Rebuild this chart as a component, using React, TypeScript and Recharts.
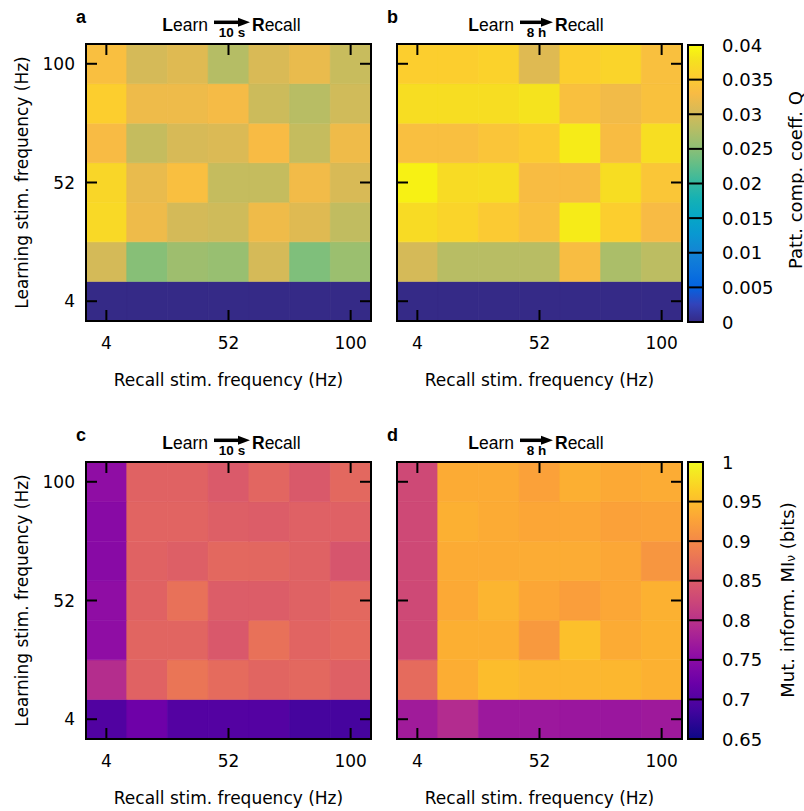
import React from 'react';
import { Bar, BarChart, Cell, XAxis, YAxis } from 'recharts';

const recallHz = [4, 20, 36, 52, 68, 84, 100];
const learnHz = [4, 20, 36, 52, 68, 84, 100];
const labelledHz = [4, 52, 100];

// rows: learning 100 Hz (top) down to 4 Hz; columns: recall 4 -> 100 Hz
const qShort = [
  [0.0335, 0.0302, 0.031, 0.0278, 0.0305, 0.0318, 0.0292],
  [0.0356, 0.0322, 0.0322, 0.0328, 0.0295, 0.028, 0.0298],
  [0.033, 0.029, 0.0303, 0.0306, 0.033, 0.029, 0.0323],
  [0.0365, 0.0318, 0.0335, 0.029, 0.029, 0.0325, 0.0304],
  [0.0368, 0.0322, 0.0301, 0.0297, 0.0323, 0.031, 0.0287],
  [0.0301, 0.0248, 0.0262, 0.0258, 0.0302, 0.0243, 0.026],
  [0, 0, 0, 0, 0, 0, 0],
];
const qLong = [
  [0.0355, 0.0355, 0.036, 0.031, 0.0355, 0.0362, 0.0337],
  [0.0373, 0.0373, 0.0373, 0.038, 0.0337, 0.0325, 0.0338],
  [0.0335, 0.0335, 0.0343, 0.0352, 0.0387, 0.0332, 0.0374],
  [0.0392, 0.037, 0.0373, 0.0332, 0.0332, 0.0373, 0.0345],
  [0.037, 0.0362, 0.035, 0.0337, 0.0387, 0.0355, 0.033],
  [0.0302, 0.028, 0.028, 0.028, 0.0333, 0.0271, 0.0283],
  [0, 0, 0, 0, 0, 0, 0],
];
const miShort = [
  [0.755, 0.858, 0.858, 0.848, 0.862, 0.847, 0.864],
  [0.748, 0.86, 0.86, 0.854, 0.851, 0.856, 0.856],
  [0.748, 0.858, 0.854, 0.864, 0.863, 0.857, 0.842],
  [0.755, 0.858, 0.874, 0.851, 0.851, 0.857, 0.864],
  [0.755, 0.861, 0.861, 0.846, 0.874, 0.86, 0.866],
  [0.794, 0.858, 0.879, 0.868, 0.861, 0.864, 0.855],
  [0.699, 0.724, 0.701, 0.701, 0.701, 0.689, 0.689],
];
const miLong = [
  [0.828, 0.934, 0.934, 0.925, 0.938, 0.933, 0.935],
  [0.828, 0.939, 0.934, 0.93, 0.931, 0.925, 0.927],
  [0.828, 0.934, 0.934, 0.935, 0.935, 0.931, 0.914],
  [0.828, 0.933, 0.943, 0.93, 0.922, 0.931, 0.94],
  [0.828, 0.938, 0.938, 0.917, 0.953, 0.934, 0.94],
  [0.868, 0.936, 0.95, 0.945, 0.945, 0.945, 0.94],
  [0.772, 0.792, 0.768, 0.768, 0.766, 0.766, 0.77],
];
const qTicks = [0, 0.005, 0.01, 0.015, 0.02, 0.025, 0.03, 0.035, 0.04];
const miTicks = [0.65, 0.7, 0.75, 0.8, 0.85, 0.9, 0.95, 1];

type Stop = [number, number, number, number];

const parula: Stop[] = [
  [0, 53, 42, 135], [4 / 63, 50, 67, 186], [8 / 63, 3, 99, 225], [12 / 63, 13, 117, 220],
  [16 / 63, 20, 133, 212], [20 / 63, 9, 152, 209], [24 / 63, 6, 167, 198], [28 / 63, 21, 177, 180],
  [32 / 63, 56, 185, 158], [36 / 63, 101, 190, 134], [40 / 63, 146, 191, 115], [44 / 63, 183, 189, 100],
  [48 / 63, 217, 186, 86], [52 / 63, 248, 187, 68], [56 / 63, 252, 206, 46], [60 / 63, 245, 228, 29],
  [1, 249, 251, 14],
];
const plasma: Stop[] = [
  [0, 13, 8, 135], [0.1, 65, 4, 157], [0.2, 106, 0, 168], [0.3, 143, 13, 164], [0.4, 177, 42, 144],
  [0.5, 204, 71, 120], [0.6, 225, 100, 98], [0.7, 242, 132, 75], [0.8, 252, 166, 54],
  [0.9, 252, 206, 37], [1, 240, 249, 33],
];

const colorScale = (stops: Stop[], lo: number, hi: number) => (v: number) => {
  const t = Math.min(1, Math.max(0, (v - lo) / (hi - lo)));
  let i = 0;
  while (i < stops.length - 2 && stops[i + 1][0] < t) i++;
  const a = stops[i];
  const b = stops[i + 1];
  const f = (t - a[0]) / (b[0] - a[0]);
  const c = [1, 2, 3].map((k) => Math.round(a[k] + (b[k] - a[k]) * f));
  return `rgb(${c.join(',')})`;
};

const qColor = colorScale(parula, 0, 0.04);
const miColor = colorScale(plasma, 0.65, 1);

const FONT = '"DejaVu Sans", sans-serif';
const TITLE_FONT = '"Liberation Sans", Arial, sans-serif';
const W = 400;
const H = 400;
const MARGIN = { top: 44, right: 29, bottom: 39, left: 26 };
const Y_W = 60;
const X_H = 40;
const PLOT = { x0: 86, x1: 371, y0: 44, y1: 321 };
const TICK = 11;
const CB = { x0: 688, x1: 703, y0: 45, y1: 322 };

const rowTicks = labelledHz.map((hz) => learnHz.indexOf(hz) + 0.5);
const cellW = (PLOT.x1 - PLOT.x0) / recallHz.length;
const cellH = (PLOT.y1 - PLOT.y0) / learnHz.length;

function XTick(props: any) {
  const { x, payload } = props;
  if (!labelledHz.includes(Number(payload.value))) return <g />;
  return (
    <text x={x} y={349} textAnchor="middle" fontSize={17} fontFamily={FONT} fill="#000">
      {payload.value}
    </text>
  );
}

function YTick(props: any) {
  const { y, payload } = props;
  return (
    <text x={75} y={y + 6} textAnchor="end" fontSize={17} fontFamily={FONT} fill="#000">
      {learnHz[Math.floor(payload.value)]}
    </text>
  );
}

function HeatPanel({ values, color, left, top, showY }: { values: number[][]; color: (v: number) => string; left: number; top: number; showY: boolean }) {
  const table = recallHz.map((hz) => {
    const row: Record<string, number | string> = { recall: String(hz) };
    learnHz.forEach((_, r) => {
      row[`l${r}`] = 1;
    });
    return row;
  });
  const bottomUp = [...values].reverse();
  return (
    <div style={{ position: 'absolute', left, top }}>
      <BarChart width={W} height={H} data={table} margin={MARGIN} barCategoryGap={0} barGap={0}>
        {learnHz.map((hz, r) => (
          <Bar key={hz} dataKey={`l${r}`} stackId="grid" isAnimationActive={false}>
            {recallHz.map((rh, c) => (
              <Cell key={rh} fill={color(bottomUp[r][c])} stroke={color(bottomUp[r][c])} strokeWidth={0.6} />
            ))}
          </Bar>
        ))}
        <XAxis dataKey="recall" interval={0} axisLine={false} tickLine={false} height={X_H} tick={<XTick />} />
        <YAxis
          type="number"
          domain={[0, learnHz.length]}
          ticks={rowTicks}
          axisLine={false}
          tickLine={false}
          width={Y_W}
          tick={showY ? <YTick /> : false}
        />
      </BarChart>
    </div>
  );
}

function CbTick(props: any) {
  const { y, payload } = props;
  return (
    <text x={42} y={y + 6.5} fontSize={18} fontFamily={FONT} fill="#000">
      {String(payload.value)}
    </text>
  );
}

function ColorBar({ stops, lo, hi, ticks, left, top, id }: { stops: Stop[]; lo: number; hi: number; ticks: number[]; left: number; top: number; id: string }) {
  const data = [{ name: 'bar', range: [lo, hi] }];
  return (
    <div style={{ position: 'absolute', left, top }}>
      <BarChart width={124} height={400} data={data} margin={{ top: CB.y0, right: 21, bottom: 400 - CB.y1, left: 8 }} barCategoryGap={0}>
        <defs>
          <linearGradient id={id} x1="0" y1="1" x2="0" y2="0">
            {stops.map((s, i) => (
              <stop key={i} offset={s[0]} stopColor={`rgb(${s[1]},${s[2]},${s[3]})`} />
            ))}
          </linearGradient>
        </defs>
        <XAxis dataKey="name" hide />
        <Bar dataKey="range" fill={`url(#${id})`} isAnimationActive={false} />
        <YAxis
          orientation="right"
          type="number"
          domain={[lo, hi]}
          ticks={ticks}
          width={80}
          axisLine={false}
          tickLine={false}
          tick={<CbTick />}
        />
      </BarChart>
    </div>
  );
}

const panels = [
  { letter: 'a', delay: '10 s', left: 0, top: 0, ax0: 214, ax1: 250, values: qShort, color: qColor, showY: true },
  { letter: 'b', delay: '8 h', left: 311, top: 0, ax0: 209, ax1: 242, values: qLong, color: qColor, showY: false },
  { letter: 'c', delay: '10 s', left: 0, top: 418, ax0: 214, ax1: 250, values: miShort, color: miColor, showY: true },
  { letter: 'd', delay: '8 h', left: 311, top: 418, ax0: 209, ax1: 242, values: miLong, color: miColor, showY: false },
];

const colorbars = [
  { top: 0, lo: 0, hi: 0.04, ticks: qTicks },
  { top: 417, lo: 0.65, hi: 1, ticks: miTicks },
];

function Decorations() {
  const tickX = labelledHz.map((hz) => PLOT.x0 + (recallHz.indexOf(hz) + 0.5) * cellW);
  const tickY = labelledHz.map((hz) => PLOT.y1 - (learnHz.indexOf(hz) + 0.5) * cellH);
  return (
    <svg width={804} height={811} style={{ position: 'absolute', left: 0, top: 0, pointerEvents: 'none' }}>
      {panels.map((p) => (
        <g key={p.letter} transform={`translate(${p.left},${p.top})`}>
          {tickX.map((x) => (
            <g key={`x${x}`} stroke="#000" strokeWidth={2}>
              <line x1={x} x2={x} y1={PLOT.y1} y2={PLOT.y1 - TICK} />
              <line x1={x} x2={x} y1={PLOT.y0} y2={PLOT.y0 + TICK} />
            </g>
          ))}
          {tickY.map((y) => (
            <g key={`y${y}`} stroke="#000" strokeWidth={2}>
              <line x1={PLOT.x0} x2={PLOT.x0 + TICK} y1={y} y2={y} />
              <line x1={PLOT.x1} x2={PLOT.x1 - TICK} y1={y} y2={y} />
            </g>
          ))}
          <rect x={PLOT.x0} y={PLOT.y0} width={PLOT.x1 - PLOT.x0} height={PLOT.y1 - PLOT.y0} fill="none" stroke="#000" strokeWidth={2} />
          <text x={76} y={23} fontSize={18} fontWeight="bold" fontFamily={TITLE_FONT}>{p.letter}</text>
          <text x={p.ax0 - 6} y={31} textAnchor="end" fontSize={17.5} fontFamily={TITLE_FONT}>
            <tspan fontWeight="bold">L</tspan>earn
          </text>
          <line x1={p.ax0} x2={p.ax1 - 9} y1={22.3} y2={22.3} stroke="#000" strokeWidth={3.5} />
          <polygon points={`${p.ax1 - 12},${17.8} ${p.ax1},${22.3} ${p.ax1 - 12},${26.8}`} fill="#000" />
          <text x={(p.ax0 + p.ax1) / 2} y={37} textAnchor="middle" fontSize={13.5} fontWeight="bold" fontFamily={TITLE_FONT}>
            {p.delay}
          </text>
          <text x={p.ax1 + 2} y={31} fontSize={17.5} fontFamily={TITLE_FONT}>
            <tspan fontWeight="bold">R</tspan>ecall
          </text>
          <text x={228.5} y={386} textAnchor="middle" fontSize={17} fontFamily={FONT}>
            Recall stim. frequency (Hz)
          </text>
          {p.showY && (
            <text x={22} y={182.5} transform="rotate(-90 22 182.5)" textAnchor="middle" dominantBaseline="central" fontSize={17} fontFamily={FONT}>
              Learning stim. frequency (Hz)
            </text>
          )}
        </g>
      ))}
      {colorbars.map((c) => (
        <g key={c.top} transform={`translate(0,${c.top})`} stroke="#000" strokeWidth={2}>
          {c.ticks.map((t) => {
            const y = CB.y1 - ((t - c.lo) / (c.hi - c.lo)) * (CB.y1 - CB.y0);
            return <line key={t} x1={CB.x0} x2={CB.x1} y1={y} y2={y} />;
          })}
          <rect x={CB.x0} y={CB.y0} width={CB.x1 - CB.x0} height={CB.y1 - CB.y0} fill="none" />
        </g>
      ))}
      <text x={795} y={180} transform="rotate(-90 795 180)" textAnchor="middle" dominantBaseline="central" fontSize={18} fontFamily={FONT}>
        Patt. comp. coeff. Q
      </text>
      <text x={787} y={600} transform="rotate(-90 787 600)" textAnchor="middle" dominantBaseline="central" fontSize={18} fontFamily={FONT}>
        Mut. inform. MI<tspan dy={4} fontSize={12}>ν</tspan>
        <tspan dy={-4}> (bits)</tspan>
      </text>
    </svg>
  );
}

export default function App() {
  return (
    <div style={{ position: 'absolute', left: 0, top: 0, width: 804, height: 811, background: '#fff' }}>
      {panels.map((p) => (
        <HeatPanel key={p.letter} values={p.values} color={p.color} left={p.left} top={p.top} showY={p.showY} />
      ))}
      {colorbars.map((c, i) => (
        <ColorBar key={c.top} stops={i === 0 ? parula : plasma} lo={c.lo} hi={c.hi} ticks={c.ticks} left={680} top={c.top} id={`cb${i}`} />
      ))}
      <Decorations />
    </div>
  );
}
